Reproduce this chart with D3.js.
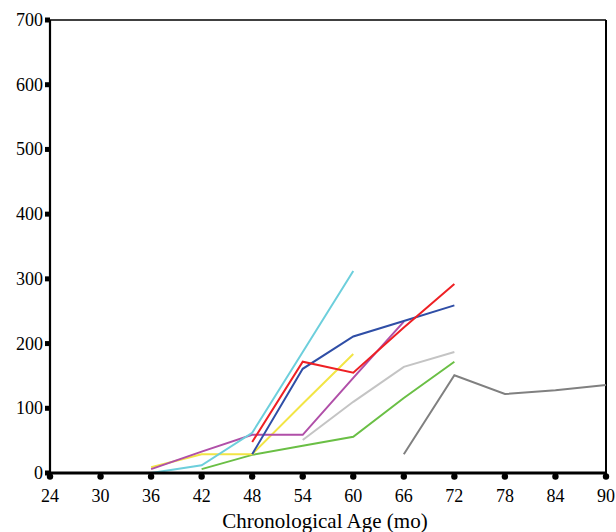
<!DOCTYPE html>
<html>
<head>
<meta charset="utf-8">
<script src="https://cdn.jsdelivr.net/npm/d3@7/dist/d3.min.js"></script>
<style>
  body { margin: 0; background: #fff; }
  text { font-family: "Liberation Serif", "Times New Roman", serif; fill: #000; }
</style>
</head>
<body>
<svg id="chart" width="616" height="532"></svg>
<script>
// Age ticks (months) and value ticks
const ageTicks = [24, 30, 36, 42, 48, 54, 60, 66, 72, 78, 84, 90];
const valueTicks = [0, 100, 200, 300, 400, 500, 600, 700];

// One growth curve per subject: [age, value]
const cyanSeries    = [[36, 0], [42, 12], [48, 62], [54, 187], [60, 312]];
const blueSeries    = [[48, 29], [54, 161], [60, 211], [66, 235], [72, 259]];
const redSeries     = [[48, 48], [54, 172], [60, 155], [66, 225], [72, 292]];
const yellowSeries  = [[36, 9], [42, 29], [48, 29], [54, 107], [60, 184]];
const magentaSeries = [[36, 6], [42, 33], [48, 59], [54, 59], [60, 147], [66, 234]];
const silverSeries  = [[54, 51], [60, 110], [66, 164], [72, 187]];
const greenSeries   = [[42, 6], [48, 28], [54, 42], [60, 56], [66, 116], [72, 172]];
const graySeries    = [[66, 29], [72, 151], [78, 122], [84, 128], [90, 136]];

const series = [
  { data: greenSeries,   color: "#6abf45" },
  { data: silverSeries,  color: "#c4c4c4" },
  { data: yellowSeries,  color: "#f2e545" },
  { data: magentaSeries, color: "#b04fa8" },
  { data: cyanSeries,    color: "#6dcfdc" },
  { data: blueSeries,    color: "#2f4ea6" },
  { data: redSeries,     color: "#ee2024" },
  { data: graySeries,    color: "#808080" }
];

const svg = d3.select("#chart");
const x = d3.scaleLinear().domain([24, 90]).range([50, 606]);
const y = d3.scaleLinear().domain([0, 700]).range([473, 20]);

// Frame: top and right edges
svg.append("line").attr("x1", x(24)).attr("x2", x(90)).attr("y1", y(700)).attr("y2", y(700))
  .attr("stroke", "#000").attr("stroke-width", 1.5);
svg.append("line").attr("x1", x(90)).attr("x2", x(90)).attr("y1", y(700)).attr("y2", y(0))
  .attr("stroke", "#000").attr("stroke-width", 2);

// Curves
const line = d3.line().x(d => x(d[0])).y(d => y(d[1]));
svg.append("g").selectAll("path").data(series).join("path")
  .attr("d", d => line(d.data))
  .attr("fill", "none")
  .attr("stroke", d => d.color)
  .attr("stroke-width", 2);

// Y axis
const yAxis = svg.append("g");
yAxis.append("line").attr("x1", x(24)).attr("x2", x(24)).attr("y1", y(700)).attr("y2", y(0) + 1)
  .attr("stroke", "#000").attr("stroke-width", 2.2);
yAxis.selectAll("rect").data(valueTicks).join("rect")
  .attr("x", x(24) - 5).attr("y", d => y(d) - 2.5).attr("width", 5).attr("height", 5)
  .attr("fill", "#000");
yAxis.selectAll("text").data(valueTicks).join("text")
  .attr("x", x(24) - 7).attr("y", d => y(d) + 6)
  .attr("text-anchor", "end").attr("font-size", 18)
  .text(d => d);

// X axis
const xAxis = svg.append("g");
xAxis.append("line").attr("x1", x(24) - 1).attr("x2", x(90) + 1).attr("y1", y(0)).attr("y2", y(0))
  .attr("stroke", "#000").attr("stroke-width", 3);
xAxis.selectAll("circle").data(ageTicks).join("circle")
  .attr("cx", d => x(d)).attr("cy", y(0) + 3.5).attr("r", 3.2)
  .attr("fill", "#000");
xAxis.selectAll("text").data(ageTicks).join("text")
  .attr("x", d => x(d)).attr("y", 502)
  .attr("text-anchor", "middle").attr("font-size", 18)
  .text(d => d);

svg.append("text").attr("x", 325).attr("y", 528)
  .attr("text-anchor", "middle").attr("font-size", 21)
  .text("Chronological Age (mo)");
</script>
</body>
</html>
